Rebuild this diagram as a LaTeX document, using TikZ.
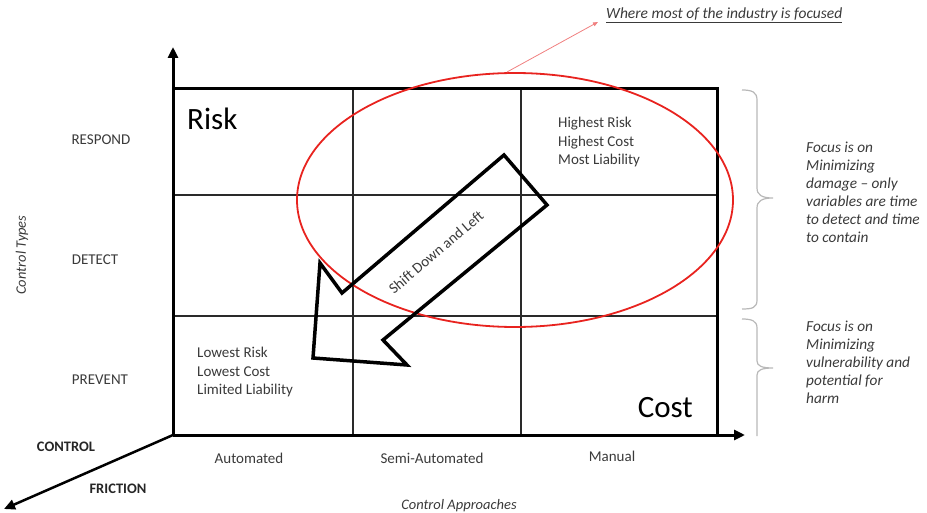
\documentclass[tikz,border=0pt]{standalone}
\usepackage{fontspec}
\setmainfont{Carlito}
\usetikzlibrary{arrows.meta}
\definecolor{txt}{HTML}{3A3A3A}
\definecolor{grid}{HTML}{2A2A2A}
\definecolor{redl}{HTML}{E8231F}
\definecolor{pink}{HTML}{F08080}
\definecolor{bracec}{HTML}{B8B8B8}
\tikzset{
  lbl/.style={text=txt,font=\fontsize{15}{18.5}\selectfont,inner sep=0pt},
  big/.style={text=black,font=\fontsize{31}{36}\selectfont,inner sep=0pt},
  ital/.style={text=txt,font=\fontsize{15.3}{18}\selectfont\itshape,inner sep=0pt,align=left,anchor=north west},
  boldlbl/.style={text=black!85,font=\fontsize{14.5}{17}\selectfont\bfseries,inner sep=0pt},
  thinline/.style={draw=grid,line width=1.2pt},
  frameline/.style={draw=black,line width=3pt},
  axis/.style={draw=black,line width=3pt,-{Triangle[length=11pt,width=10pt]}},
  bigarrow/.style={draw=black,line width=3.5pt,line join=miter},
  bracepath/.style={draw=bracec,line width=1.2pt},
}
\begin{document}
\begin{tikzpicture}[x=1pt,y=-1pt]
\useasboundingbox (0,0) rectangle (927,513);
% coordinates
\coordinate (O) at (173,435);
\coordinate (yend) at (173,47);
\coordinate (xend) at (745,435);
\coordinate (zend) at (4,509);
% inner grid
\draw[thinline] (353,89) -- (353,435);
\draw[thinline] (521,89) -- (521,435);
\draw[thinline] (173,195) -- (717,195);
\draw[thinline] (173,316) -- (717,316);
% frame
\draw[frameline,line cap=rect] (173,89) -- (717,89) -- (717,435);
% axes
\draw[axis] (O) -- (yend);
\draw[axis] (O) -- (xend);
\draw[axis,line width=2.5pt] (O) -- (zend);
% ellipse
\draw[redl,line width=1.8pt] (515,200) ellipse [x radius=218, y radius=127];
% pointer
\coordinate (ptr) at (507,72);
\node[ital,anchor=west,font=\fontsize{15.5}{18}\selectfont\itshape] (where) at (606,15) {\underline{Where most of the industry is focused}};
\coordinate (ptrend) at (598,22);
\draw[pink,line width=0.8pt,-{Triangle[length=5pt,width=4pt]}] (ptr) -- (ptrend);
% big arrow
\draw[bigarrow] (504,155) -- (547,205) -- (383,340) -- (407,365) -- (313,358) -- (320,263) -- (342,293) -- cycle;
\node[lbl,rotate=40.5] (shift) at (436,252) {Shift Down and Left};
% big labels
\node[big,anchor=west] (risk) at (187,119) {Risk};
\node[big,anchor=east] (cost) at (693,408) {Cost};
% cell texts
\node[lbl,align=left,anchor=north west] (high) at (558,117) {Highest Risk\\Highest Cost\\Most Liability};
\node[lbl,align=left,anchor=north west] (low) at (197,347) {Lowest Risk\\Lowest Cost\\Limited Liability};
% y labels
\node[lbl] (respond) at (101,140) {RESPOND};
\node[lbl] (detect) at (95,260) {DETECT};
\node[lbl] (prevent) at (100,380) {PREVENT};
\node[lbl,font=\fontsize{14.5}{17}\selectfont\itshape,rotate=90] (ctypes) at (22,255) {Control Types};
% x labels
\node[lbl] (auto) at (249,458) {Automated};
\node[lbl] (semi) at (432,458) {Semi-Automated};
\node[lbl] (manual) at (612,456) {Manual};
\node[lbl,font=\fontsize{14.5}{17}\selectfont\itshape] (capp) at (459,506) {Control Approaches};
% z labels
\node[boldlbl] (control) at (66,447) {CONTROL};
\node[boldlbl] (friction) at (118,489) {FRICTION};
% braces
\draw[bracepath] (742,90) .. controls (752,90) and (757,92) .. (757,100) -- (757,188) .. controls (757,195) and (762,198) .. (773,198) .. controls (762,198) and (757,201) .. (757,208) -- (757,300) .. controls (757,308) and (752,309) .. (742,309);
\draw[bracepath] (742,319) .. controls (752,319) and (757,321) .. (757,328) -- (757,361) .. controls (757,366) and (762,368) .. (773,368) .. controls (762,368) and (757,370) .. (757,375) -- (757,436);
% right texts
\node[ital] (focus1) at (806,142) {Focus is on\\Minimizing\\damage – only\\variables are time\\to detect and time\\to contain};
\node[ital] (focus2) at (806,321) {Focus is on\\Minimizing\\vulnerability and\\potential for\\harm};
\end{tikzpicture}
\end{document}
